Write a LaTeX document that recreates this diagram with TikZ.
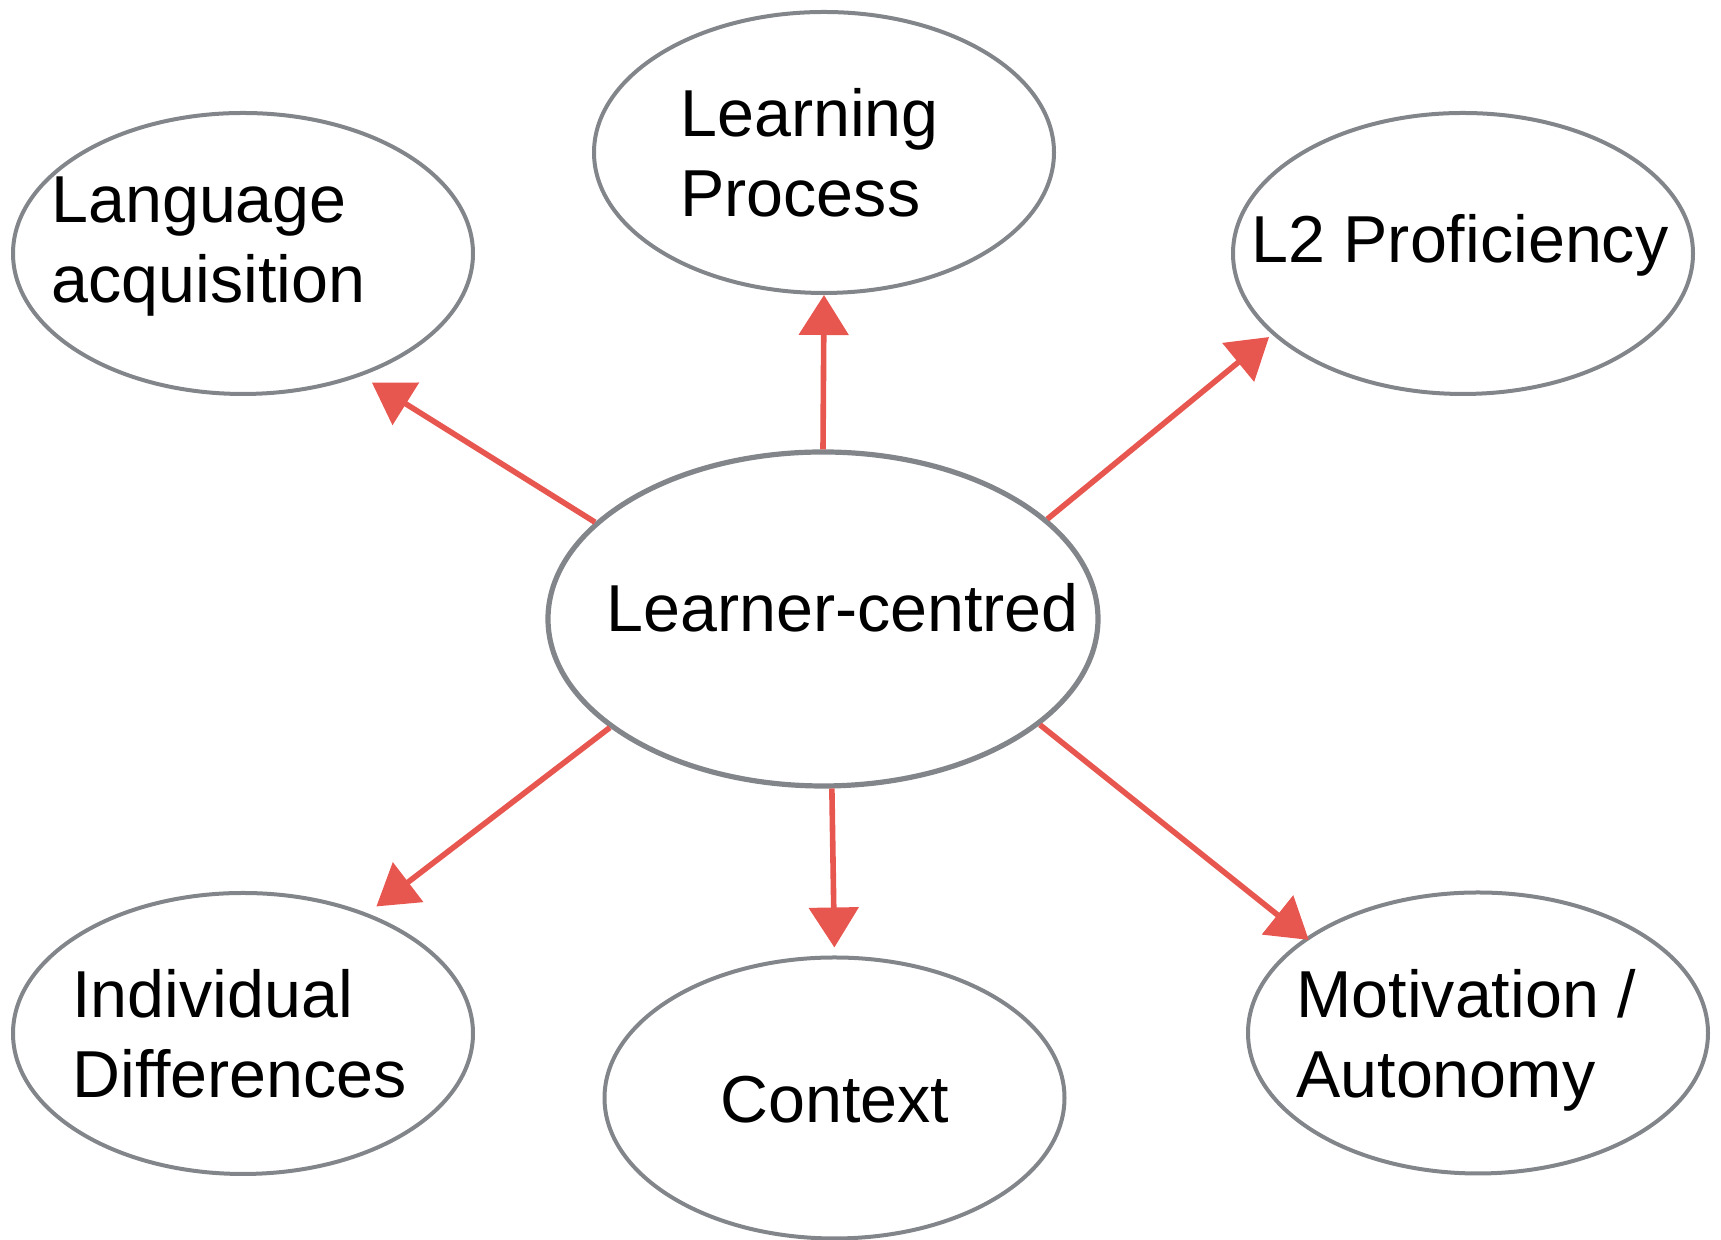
\documentclass[tikz,border=0pt]{standalone}
\usepackage{fontspec}
\setmainfont{Liberation Sans}
\usetikzlibrary{arrows.meta}
\usetikzlibrary{shapes.geometric}

\definecolor{rimgray}{RGB}{130,133,138}
\definecolor{arrowred}{RGB}{232,86,80}

\begin{document}
\begin{tikzpicture}[x=0.5pt,y=0.5pt]
  \useasboundingbox (0,0) rectangle (1721,1240);

  % outer ellipses and the hub
  \begin{scope}[every node/.style={ellipse, draw=rimgray, line width=2pt, inner sep=0pt,
                                   minimum width=230pt, minimum height=140.5pt}]
    \node (lang)  at (243,986.5) {};
    \node (proc)  at (824,1087.5) {};
    \node (prof)  at (1463,986.5) {};
    \node (indiv) at (243,206.5) {};
    \node (ctx)   at (834.5,142) {};
    \node (motiv) at (1478,207) {};
    \node[line width=2.6pt, minimum width=275pt, minimum height=167pt] (cent) at (823,621) {};
  \end{scope}

  % labels (base = last line)
  \begin{scope}[every node/.style={anchor=base west, inner sep=0pt, align=left,
                                   font=\fontsize{33.2}{40}\selectfont}]
    \node (lang-t)  at (51,937)    {Language\\acquisition};
    \node (proc-t)  at (680,1023)  {Learning\\Process};
    \node (prof-t)  at (1251,977)  {L2 Proficiency};
    \node (cent-t)  at (606,608)   {Learner-centred};
    \node (indiv-t) at (72,142)    {Individual\\Differences};
    \node (ctx-t)   at (720,117)   {Context};
    \node (motiv-t) at (1296,142)  {Motivation /\\Autonomy};
  \end{scope}

  \begin{scope}[>={Triangle[length=20pt,width=24.5pt]},
                every edge/.style={draw=arrowred, line width=2.8pt, ->}]
    \foreach \a/\n/\b/\s in {157.8/lang/-46.8/6.25pt, 90/proc/south/0pt,
                             24.2/prof/203.3/2pt, 207.8/indiv/44/5.6pt,
                             273.7/ctx/north/4pt, -26.5/motiv/151/-1.9pt}
    {
      \path (cent.\a) edge[shorten >=\s] (\n.\b);
    }
  \end{scope}
\end{tikzpicture}
\end{document}
